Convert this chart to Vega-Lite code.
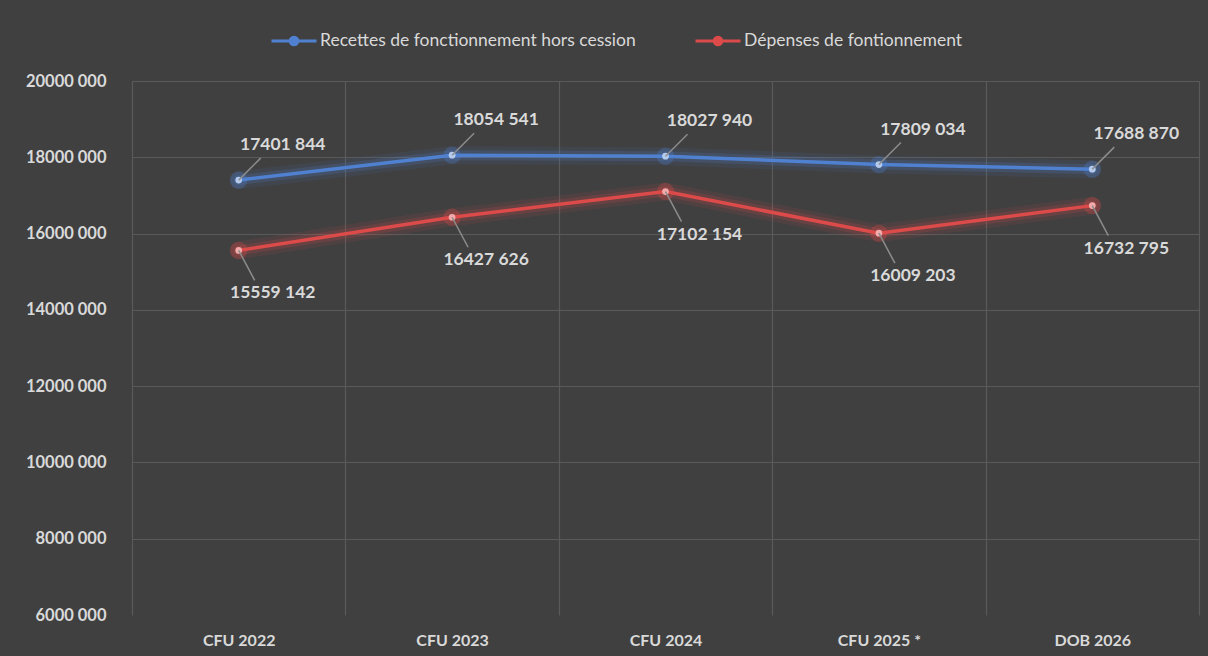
{
  "$schema": "https://vega.github.io/schema/vega-lite/v6.json",
  "width": 1067,
  "height": 534,
  "autosize": {"type": "none"},
  "padding": {"left": 132, "top": 81, "right": 9, "bottom": 41},
  "background": "#404040",
  "config": {
    "view": {"stroke": null},
    "font": "Lato",
    "axis": {"labelFont": "Lato", "labelColor": "#d9d9d9", "domain": false, "ticks": false, "title": null, "gridColor": "#5a5a5a", "gridWidth": 1.2}
  },
  "data": {
    "values": [
      {"cat": "CFU 2022", "series": "Recettes de fonctionnement  hors cession", "v": 17401844},
      {"cat": "CFU 2023", "series": "Recettes de fonctionnement  hors cession", "v": 18054541},
      {"cat": "CFU 2024", "series": "Recettes de fonctionnement  hors cession", "v": 18027940},
      {"cat": "CFU 2025 *", "series": "Recettes de fonctionnement  hors cession", "v": 17809034},
      {"cat": "DOB 2026", "series": "Recettes de fonctionnement  hors cession", "v": 17688870},
      {"cat": "CFU 2022", "series": "Dépenses de fontionnement", "v": 15559142},
      {"cat": "CFU 2023", "series": "Dépenses de fontionnement", "v": 16427626},
      {"cat": "CFU 2024", "series": "Dépenses de fontionnement", "v": 17102154},
      {"cat": "CFU 2025 *", "series": "Dépenses de fontionnement", "v": 16009203},
      {"cat": "DOB 2026", "series": "Dépenses de fontionnement", "v": 16732795}
    ]
  },
  "transform": [
    {"calculate": "floor(datum.v / 1000) + ' ' + pad(toString(datum.v % 1000), 3, '0', 'left')", "as": "lbl"}
  ],
  "encoding": {
    "x": {
      "field": "cat", "type": "nominal", "sort": null,
      "scale": {"type": "band", "paddingInner": 0, "paddingOuter": 0},
      "axis": {"labelAngle": 0, "labelFontSize": 16, "labelFontWeight": "bold", "labelPadding": 17, "tickBand": "extent", "grid": true}
    },
    "y": {
      "field": "v", "type": "quantitative",
      "scale": {"domain": [6000000, 20000000], "nice": false, "zero": false},
      "axis": {"values": [6000000, 8000000, 10000000, 12000000, 14000000, 16000000, 18000000, 20000000], "labelExpr": "floor(datum.value / 1000) + ' 000'", "labelFontSize": 16.5, "labelFontWeight": "bold", "labelPadding": 26, "gridOpacity": {"expr": "datum.value > 6000000 ? 1 : 0"}}
    },
    "color": {"field": "series", "type": "nominal", "sort": null, "scale": {"range": ["#4f81d0", "#dc4a4a"]},
      "legend": {"title": null, "orient": "none", "legendX": 138, "legendY": -64, "direction": "horizontal", "gridAlign": "none", "columnPadding": 48,
        "labelFont": "Lato", "labelFontSize": 17.5, "labelColor": "#d9d9d9", "labelOffset": 2, "labelLimit": 0,
        "symbolType": "M-1,0H1M-0.17,0A0.17,0.17 0 1,0 0.17,0A0.17,0.17 0 1,0 -0.17,0Z", "symbolSize": 2025, "symbolStrokeWidth": 3, "symbolOpacity": 1,
        "encode": {"symbols": {"update": {"fill": {"scale": "color", "field": "value"}, "fillOpacity": {"value": 1}, "opacity": {"value": 1}}}}}}
  },
  "layer": [
    {"mark": {"type": "line", "strokeWidth": 18, "opacity": 0.1, "strokeCap": "round"}},
    {"mark": {"type": "line", "strokeWidth": 10, "opacity": 0.18, "strokeCap": "round"}},
    {"mark": {"type": "line", "strokeWidth": 3.5}},
    {"mark": {"type": "point", "filled": true, "size": 300, "opacity": 0.3}},
    {
      "mark": {"type": "point", "filled": true, "size": 45, "opacity": 1},
      "encoding": {"color": {"value": null}, "fill": {"field": "series", "type": "nominal", "sort": null, "scale": {"range": ["#b4cbee", "#f2aaaa"]}, "legend": null}}
    },
    {
      "transform": [{"filter": "indexof(datum.series, 'Recettes') === 0"}],
      "mark": {"type": "rule", "strokeWidth": 1.5, "x2Offset": 22, "y2Offset": -22},
      "encoding": {"color": {"value": "#8c8c8c"}, "x2": {"field": "cat"}, "y2": {"field": "v"}}
    },
    {
      "transform": [{"filter": "indexof(datum.series, 'Dépenses') === 0"}],
      "mark": {"type": "rule", "strokeWidth": 1.5, "x2Offset": 16, "y2Offset": 30},
      "encoding": {"color": {"value": "#8c8c8c"}, "x2": {"field": "cat"}, "y2": {"field": "v"}}
    },
    {
      "transform": [{"filter": "indexof(datum.series, 'Recettes') === 0"}],
      "mark": {"type": "text", "font": "Lato", "fontSize": 17.5, "fontWeight": "bold", "dx": 44, "dy": -35, "baseline": "middle"},
      "encoding": {"color": {"value": "#d9d9d9"}, "text": {"field": "lbl"}}
    },
    {
      "transform": [{"filter": "indexof(datum.series, 'Dépenses') === 0"}],
      "mark": {"type": "text", "font": "Lato", "fontSize": 17.5, "fontWeight": "bold", "dx": 34, "dy": 43, "baseline": "middle"},
      "encoding": {"color": {"value": "#d9d9d9"}, "text": {"field": "lbl"}}
    }
  ]
}
